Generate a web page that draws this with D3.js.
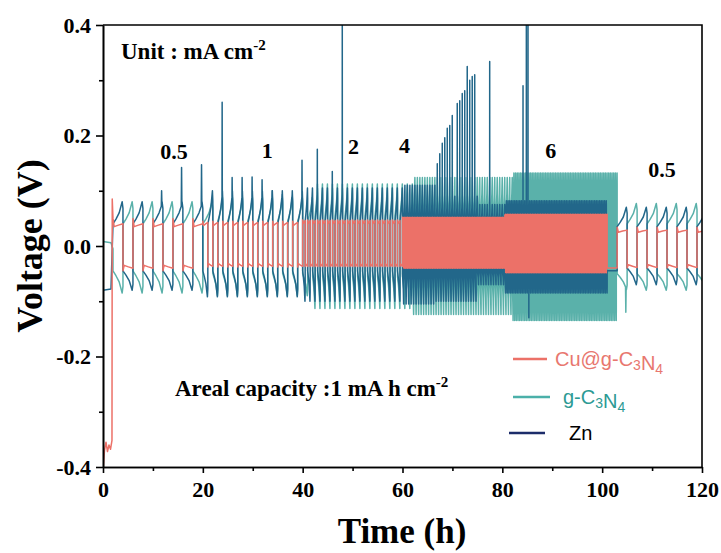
<!DOCTYPE html>
<html>
<head>
<meta charset="utf-8">
<title>Voltage profiles</title>
<script src="https://d3js.org/d3.v7.min.js"></script>
<style>
  body { margin: 0; background: #fff; }
  svg text { font-family: "Liberation Serif", "Times New Roman", serif; font-weight: bold; fill: #000; }
  .legend text { font-family: "Liberation Sans", Arial, sans-serif; font-weight: normal; }
</style>
</head>
<body>
<div id="chart"></div>
<script>
const xTicks = [0, 20, 40, 60, 80, 100, 120];
const xMinor = [10, 30, 50, 70, 90, 110];
const yTicks = [-0.4, -0.2, 0.0, 0.2, 0.4];
const yMinor = [-0.3, -0.1, 0.1, 0.3];

// current density labels (mA cm-2) and where they sit (h, V)
const rateLabels = ["0.5", "1", "2", "4", "6", "0.5"];
const rateTimes = [14.2, 32.9, 50.2, 60.4, 89.7, 112];
const rateVolts = [0.158, 0.16, 0.167, 0.169, 0.16, 0.124];

const seriesNames = ["Cu@g-C3N4", "g-C3N4", "Zn"];
const seriesColors = ["#ec7168", "#5ab1aa", "#22678a"];

// cycling segments: [start h, end h, half-cycle h, +plateau, +peak, -plateau, -peak, first sign]
// half-cycle 0 = hold at +plateau value
const cuStart = [[0, 0.085], [0.05, -0.4], [0.3, -0.37], [0.6, -0.355], [0.9, -0.372],
  [1.2, -0.36], [1.5, -0.368], [1.8, -0.352], [1.85, 0.085]];
const cuSegments = [
  [2, 20, 2, 0.035, 0.05, -0.035, -0.045, 1],
  [20, 40, 1, 0.037, 0.045, -0.032, -0.038, 1],
  [40, 60, 0.5, 0.04, 0.047, -0.032, -0.037, 1],
  [60, 80.5, 0.25, 0.045, 0.052, -0.035, -0.04, 1],
  [80.5, 101, 1 / 6, 0.05, 0.056, -0.042, -0.048, 1],
  [101, 103, 0, -0.04, 0, 0, 0, 1],
  [103, 120, 2, 0.025, 0.034, -0.034, -0.04, 1]
];
const cuSpikes = [];

const gcnStart = [[0, 0.008], [1.6, 0.006], [2.0, -0.005]];
const gcnSegments = [
  [2, 22, 2, 0.04, 0.08, -0.045, -0.085, -1],
  [22, 42, 1, 0.045, 0.088, -0.05, -0.09, -1],
  [42, 62, 0.5, 0.055, 0.112, -0.055, -0.113, -1],
  [62, 82, 0.25, 0.065, 0.124, -0.065, -0.124, -1],
  [82, 103, 1 / 6, 0.07, 0.132, -0.07, -0.135, -1],
  [103, 120, 2, 0.04, 0.077, -0.05, -0.08, -1]
];
const gcnSpikes = [[104, -0.12]];

const znStart = [[0, -0.08], [1.6, -0.078]];
const znSegments = [
  [2, 20, 2, 0.04, 0.08, -0.045, -0.08, 1],
  [20, 40, 1, 0.04, 0.1, -0.045, -0.092, -1],
  [40, 60, 0.5, 0.045, 0.105, -0.045, -0.1, -1],
  [60, 66.5, 0.25, 0.05, 0.11, -0.05, -0.105, -1],
  [66.5, 75, 0.25, 0.05, 0.09, -0.05, -0.1, -1],
  [75, 80.5, 0.25, 0.045, 0.075, -0.045, -0.07, -1],
  [80.5, 101, 1 / 6, 0.05, 0.082, -0.05, -0.085, -1],
  [101, 103, 0, -0.045, 0, 0, 0, 1],
  [103, 120, 2, 0.035, 0.07, -0.04, -0.07, 1]
];
const znSpikes = [[12, 0.1], [16, 0.142], [20, 0.147], [24, 0.26], [26, 0.124], [28, 0.124],
  [30, 0.125], [32, 0.12], [34, 0.1], [36, 0.094], [38, 0.09], [40, 0.155], [43, 0.175],
  [46, 0.135], [48, 0.42], [66.8, 0.149], [67.4, 0.167], [68, 0.186], [68.4, 0.196],
  [69, 0.213], [69.6, 0.218], [70, 0.236], [70.8, 0.258], [71.2, 0.263], [71.8, 0.276],
  [72.2, 0.281], [72.8, 0.325], [73.4, 0.3], [73.8, 0.307], [74.4, 0.31], [77.2, 0.334],
  [84.2, 0.29], [84.8, 0.42], [85, 0.42], [85.2, -0.13]];

const W = 721, H = 553;
const margin = { top: 25, right: 19, bottom: 86, left: 103 };
const width = W - margin.left - margin.right,
  height = H - margin.top - margin.bottom;

const svg = d3.select("#chart").append("svg")
  .attr("width", W).attr("height", H);
const g = svg.append("g").attr("transform", `translate(${margin.left},${margin.top})`);

const x = d3.scaleLinear().domain([0, 120]).range([0, width]);
const y = d3.scaleLinear().domain([-0.4, 0.4]).range([height, 0]);

g.append("clipPath").attr("id", "plot")
  .append("rect").attr("width", width).attr("height", height);

// turn segment table into a list of half cycles, then into points
function buildPoints(start, segs, spikes, kind) {
  const halves = [];
  segs.forEach(s => {
    const [s0, s1, h, pb, pp, nb, np, first] = s;
    if (h === 0) { halves.push({ hold: true, t0: s0, t1: s1, v: pb }); return; }
    const n = Math.ceil((s1 - s0) / h - 1e-6);
    let sign = first;
    for (let i = 0; i < n; i++) {
      const t0 = s0 + i * h;
      halves.push({ t0, t1: t0 + h, sign,
        base: sign > 0 ? pb : nb, pk: sign > 0 ? pp : np, spike: null });
      sign = -sign;
    }
  });
  spikes.forEach(([t, v]) => {
    let best = null, bd = Infinity;
    halves.forEach(hc => {
      if (hc.hold || Math.sign(v) !== hc.sign) return;
      const d = (t < hc.t0 ? hc.t0 - t : t > hc.t1 ? t - hc.t1 : 0) + Math.abs(hc.t1 - t) * 1e-3;
      if (d < bd) { bd = d; best = hc; }
    });
    if (best) best.spike = v;
  });
  const pts = start.slice();
  halves.forEach(hc => {
    if (hc.hold) { pts.push([hc.t0, hc.v], [hc.t1, hc.v]); return; }
    const { t0, base, pk } = hc, h = hc.t1 - hc.t0;
    if (kind === "cu") {
      pts.push([t0, pk], [t0 + 0.12 * h, base], [t0 + 0.55 * h, base * 1.08], [t0 + h, base * 1.15]);
    } else {
      const d = pk - base;
      pts.push([t0, base], [t0 + 0.3 * h, base + 0.22 * d], [t0 + 0.62 * h, base + 0.5 * d]);
      if (hc.spike !== null) {
        pts.push([t0 + 0.84 * h, base + 0.8 * d], [t0 + 0.87 * h, hc.spike], [t0 + 0.9 * h, base + 0.9 * d]);
      }
      pts.push([t0 + 0.92 * h, pk], [t0 + h, base + 0.7 * d]);
    }
  });
  return pts;
}

const line = d3.line().x(d => x(d[0])).y(d => y(d[1]));

const traces = [
  buildPoints(gcnStart, gcnSegments, gcnSpikes, "gcn"),
  buildPoints(znStart, znSegments, znSpikes, "zn"),
  buildPoints(cuStart, cuSegments, cuSpikes, "cu")
];
const traceColors = [seriesColors[1], seriesColors[2], seriesColors[0]];

g.append("g").attr("clip-path", "url(#plot)")
  .selectAll("path").data(traces).join("path")
  .attr("d", line)
  .attr("fill", "none")
  .attr("stroke", (d, i) => traceColors[i])
  .attr("stroke-width", 1.5)
  .attr("stroke-linejoin", "round");

// axes
const fmt = d => d.toFixed(1);
const yAxis = g.append("g").call(d3.axisLeft(y).tickValues(yTicks).tickFormat(d => d === 0 ? "0.0" : fmt(d)).tickSize(7).tickSizeOuter(0));
g.append("g").call(d3.axisLeft(y).tickValues(yMinor).tickFormat("").tickSize(4).tickSizeOuter(0));
const xAxis = g.append("g").attr("transform", `translate(0,${height})`)
  .call(d3.axisBottom(x).tickValues(xTicks).tickSize(6).tickPadding(8).tickSizeOuter(0));
g.append("g").attr("transform", `translate(0,${height})`)
  .call(d3.axisBottom(x).tickValues(xMinor).tickFormat("").tickSize(4).tickSizeOuter(0));
svg.selectAll(".domain, .tick line").attr("stroke", "#000").attr("stroke-width", 1.6);
yAxis.selectAll("text").attr("font-size", 22).attr("dx", "-2");
xAxis.selectAll("text").attr("font-size", 22);

// frame top / right
g.append("path").attr("d", `M0,0H${width}V${height}`)
  .attr("fill", "none").attr("stroke", "#000").attr("stroke-width", 1.6);

// titles
svg.append("text").attr("x", 402).attr("y", 543).attr("text-anchor", "middle")
  .attr("font-size", 35).text("Time (h)");
svg.append("text").attr("transform", "translate(42,246) rotate(-90)").attr("text-anchor", "middle")
  .attr("font-size", 36).text("Voltage (V)");

// annotations
const unit = svg.append("text").attr("x", 121).attr("y", 59).attr("font-size", 23);
unit.append("tspan").text("Unit : mA cm");
unit.append("tspan").attr("dy", -9).attr("font-size", 15).text("-2");

const areal = svg.append("text").attr("x", 175).attr("y", 396).attr("font-size", 23);
areal.append("tspan").text("Areal capacity :1 mA h cm");
areal.append("tspan").attr("dy", -9).attr("font-size", 15).text("-2");

g.selectAll(".rate").data(rateLabels).join("text")
  .attr("class", "rate")
  .attr("x", (d, i) => x(rateTimes[i])).attr("y", (d, i) => y(rateVolts[i]))
  .attr("text-anchor", "middle").attr("font-size", 22).text(d => d);

// legend
const legendY = [359, 397, 433];
const legendX = [[513, 547, 555], [513, 550, 563], [509, 545, 569]];
const legendLine = ["#ec7168", "#4bb0a9", "#1c2c6a"];
const legendText = ["#e8776f", "#2c9a94", "#000"];
const lg = svg.append("g").attr("class", "legend");
seriesNames.forEach((name, i) => {
  lg.append("line").attr("x1", legendX[i][0]).attr("x2", legendX[i][1])
    .attr("y1", legendY[i]).attr("y2", legendY[i])
    .attr("stroke", legendLine[i]).attr("stroke-width", 2.5);
  const t = lg.append("text").attr("x", legendX[i][2]).attr("y", legendY[i] + 7)
    .attr("font-size", 20).style("fill", legendText[i]);
  // split chemical formula digits into subscripts
  name.split(/(\d)/).filter(s => s.length).forEach(part => {
    if (/^\d$/.test(part)) {
      t.append("tspan").attr("font-size", 14).attr("dy", 4).text(part);
      t.append("tspan").attr("dy", -4).text("");
    } else {
      t.append("tspan").text(part);
    }
  });
});
</script>
</body>
</html>
